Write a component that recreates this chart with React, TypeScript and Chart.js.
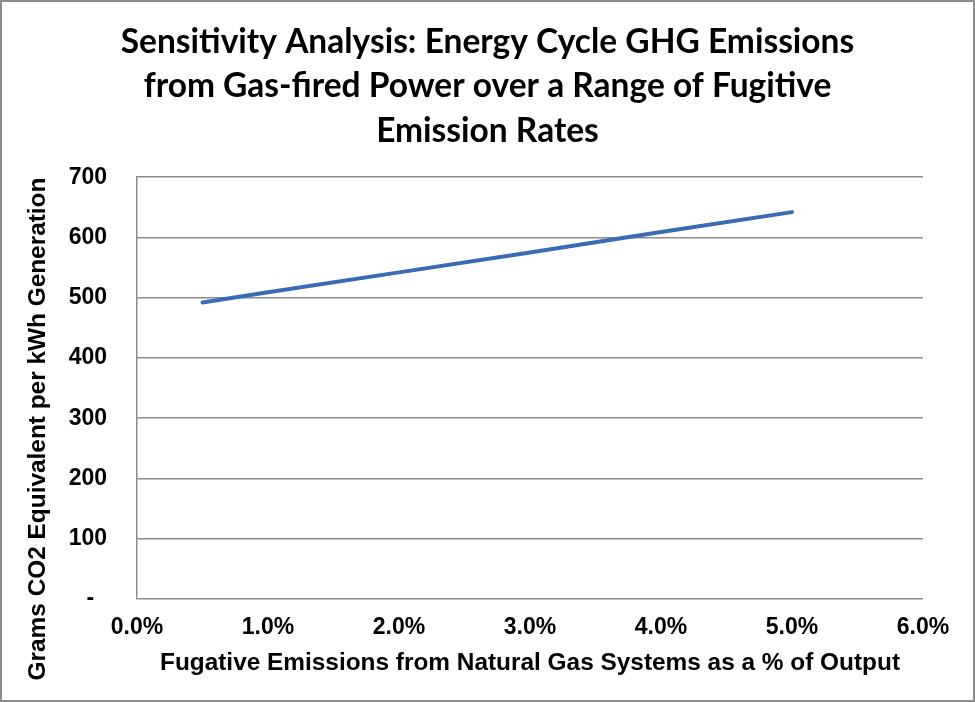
import React, { useEffect, useRef } from "react";
import { Chart, registerables } from "chart.js";

Chart.register(...registerables);

const titleLines = [
  "Sensitivity Analysis: Energy Cycle GHG Emissions",
  "from Gas-fired Power over a Range of Fugitive",
  "Emission Rates",
];
const xAxisTitle = "Fugative Emissions from Natural Gas Systems as a % of Output";
const yAxisTitle = "Grams CO2 Equivalent per kWh Generation";

// fugitive emission rate (% of output)
const fugitiveRates = [0.5, 1.0, 2.0, 3.0, 4.0, 5.0];
// grams CO2e per kWh
const emissions = [492, 509, 542, 575, 609, 642];

const xTickMin = 0;
const xTickMax = 6;
const yTickMin = 0;
const yTickMax = 700;

const W = 975;
const H = 702;

const yTitlePlugin = {
  id: "yTitlePlugin",
  afterDraw(chart: any) {
    const ctx = chart.ctx;
    ctx.save();
    ctx.translate(38, 429);
    ctx.rotate(-Math.PI / 2);
    ctx.font = "bold 24.4px 'Liberation Sans', Arial, sans-serif";
    ctx.fillStyle = "#000";
    ctx.textAlign = "center";
    ctx.textBaseline = "middle";
    ctx.fillText(yAxisTitle, 0, 0);
    ctx.restore();
  },
};

export default function App() {
  const canvasRef = useRef<HTMLCanvasElement | null>(null);

  useEffect(() => {
    document.body.style.margin = "0";
    const canvas = canvasRef.current;
    if (!canvas) return;
    const chart = new Chart(canvas, {
      type: "line",
      data: {
        datasets: [
          {
            data: fugitiveRates.map((x, i) => ({ x, y: emissions[i] })),
            borderColor: "#3A6BB4",
            borderWidth: 4,
            borderCapStyle: "round",
            pointRadius: 0,
            fill: false,
            tension: 0,
          },
        ],
      },
      plugins: [yTitlePlugin],
      options: {
        responsive: false,
        animation: false,
        devicePixelRatio: 1,
        layout: { padding: 0 },
        plugins: {
          legend: { display: false },
          tooltip: { enabled: false },
          title: {
            display: true,
            text: titleLines,
            color: "#000",
            font: { family: "Lato, 'Open Sans', sans-serif", weight: "bold", size: 33.5, lineHeight: 1.33 },
            padding: { top: 19.5, bottom: 24 },
          },
        },
        scales: {
          x: {
            type: "linear",
            min: xTickMin,
            max: xTickMax,
            afterFit: (scale: any) => {
              scale.height = 103;
              scale.paddingRight = 52;
            },
            ticks: {
              stepSize: 1,
              color: "#000",
              padding: 15,
              maxRotation: 0,
              font: { family: "'Liberation Sans', Arial, sans-serif", weight: "bold", size: 23 },
              callback: (v: any) => Number(v).toFixed(1) + "%",
            },
            grid: { display: false, drawTicks: false },
            border: { display: false },
            title: {
              display: true,
              text: xAxisTitle,
              color: "#000",
              font: { family: "'Liberation Sans', Arial, sans-serif", weight: "bold", size: 24.4 },
              padding: { top: 0, bottom: 24 },
            },
          },
          y: {
            min: yTickMin,
            max: yTickMax,
            afterFit: (scale: any) => {
              scale.width = 137;
            },
            ticks: {
              stepSize: 100,
              color: "#000",
              padding: 30,
              font: { family: "'Liberation Sans', Arial, sans-serif", weight: "bold", size: 23 },
              callback: (v: any) => (Number(v) === 0 ? "-  " : String(v)),
            },
            grid: { color: "#8c8c8c", lineWidth: 1.5, drawTicks: false },
            border: { display: true, color: "#8c8c8c", width: 1.5 },
          },
        },
      },
    } as any);
    return () => chart.destroy();
  }, []);

  return (
    <div style={{ position: "fixed", left: 0, top: 0, width: W, height: H, background: "#fff" }}>
      <canvas ref={canvasRef} width={W} height={H} style={{ position: "absolute", left: 0, top: 0, width: W, height: H }} />
      <div
        style={{
          position: "absolute",
          left: 0,
          top: 0,
          width: W,
          height: H,
          boxSizing: "border-box",
          border: "2px solid #8c8c8c",
          pointerEvents: "none",
        }}
      />
    </div>
  );
}
